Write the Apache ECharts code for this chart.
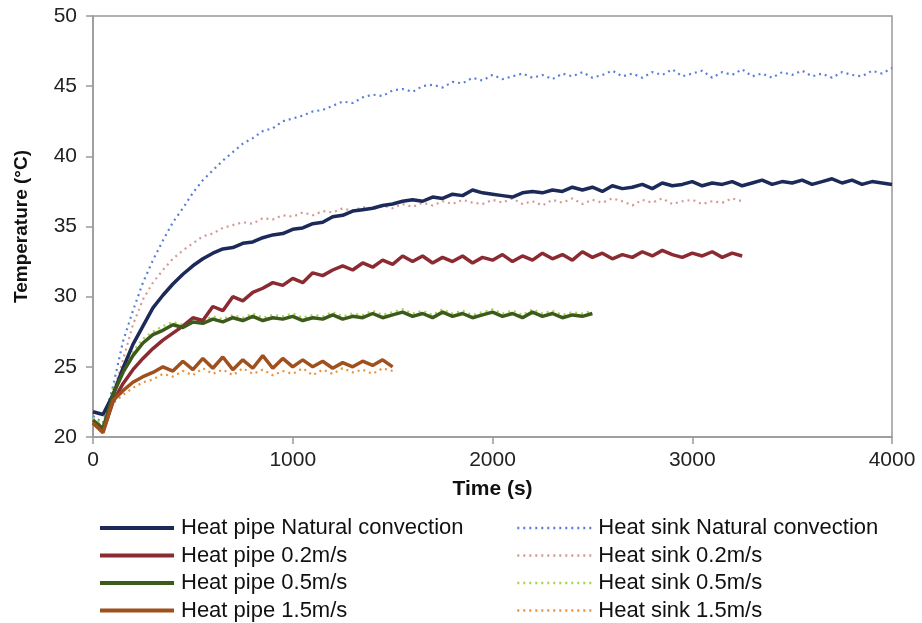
<!DOCTYPE html>
<html>
<head>
<meta charset="utf-8">
<script src="https://cdn.jsdelivr.net/npm/echarts@6/dist/echarts.min.js"></script>
<style>
  html, body { margin: 0; padding: 0; background: #fff; }
  #chart { width: 922px; height: 623px; }
</style>
</head>
<body>
<div id="chart"></div>
<script>
// time steps (s), one reading every 50 s
var timeSteps = [0,50,100,150,200,250,300,350,400,450,500,550,600,650,700,750,800,850,900,950,
  1000,1050,1100,1150,1200,1250,1300,1350,1400,1450,1500,1550,1600,1650,1700,1750,1800,1850,1900,1950,
  2000,2050,2100,2150,2200,2250,2300,2350,2400,2450,2500,2550,2600,2650,2700,2750,2800,2850,2900,2950,
  3000,3050,3100,3150,3200,3250,3300,3350,3400,3450,3500,3550,3600,3650,3700,3750,3800,3850,3900,3950,4000];

var pipeNatural = [21.8,21.6,23.0,24.9,26.6,27.9,29.2,30.1,30.9,31.6,32.2,32.7,33.1,33.4,33.5,33.8,33.9,34.2,34.4,34.5,
  34.8,34.9,35.2,35.3,35.7,35.8,36.1,36.2,36.3,36.5,36.6,36.8,36.9,36.8,37.1,37.0,37.3,37.2,37.6,37.4,
  37.3,37.2,37.1,37.4,37.5,37.4,37.6,37.5,37.8,37.6,37.8,37.5,37.9,37.7,37.8,38.0,37.7,38.1,37.9,38.0,
  38.2,37.9,38.1,38.0,38.2,37.9,38.1,38.3,38.0,38.2,38.1,38.3,38.0,38.2,38.4,38.1,38.3,38.0,38.2,38.1,38.0];
var sinkNatural = [21.5,21.0,23.6,26.8,29.0,31.0,32.6,34.0,35.3,36.3,37.4,38.3,39.0,39.7,40.3,40.9,41.3,41.8,42.0,42.5,
  42.7,42.9,43.2,43.3,43.6,43.9,43.8,44.2,44.4,44.3,44.7,44.8,44.6,45.0,45.1,44.9,45.3,45.2,45.6,45.4,
  45.8,45.5,45.7,45.9,45.6,45.8,45.5,45.9,45.7,46.0,45.6,45.8,46.1,45.7,45.9,45.6,46.0,45.8,46.2,45.7,
  45.9,46.1,45.6,46.0,45.8,46.2,45.7,45.9,45.6,46.0,45.8,46.1,45.7,45.9,45.6,46.0,45.8,45.7,46.1,45.9,46.3];
var pipe02 = [21.0,20.4,22.5,23.8,24.8,25.6,26.3,26.9,27.4,27.9,28.5,28.3,29.3,29.0,30.0,29.7,30.3,30.6,31.0,30.8,
  31.3,31.0,31.7,31.5,31.9,32.2,31.9,32.4,32.1,32.6,32.3,32.9,32.5,32.9,32.4,32.8,32.5,32.9,32.4,32.8,
  32.6,33.0,32.5,32.9,32.6,33.1,32.7,33.0,32.6,33.2,32.8,33.1,32.7,33.0,32.8,33.2,32.9,33.3,33.0,32.8,
  33.1,32.9,33.2,32.8,33.1,32.9];
var sink02 = [21.2,20.8,23.0,25.5,28.0,29.8,31.0,31.9,32.7,33.3,33.8,34.3,34.5,34.9,35.1,35.3,35.2,35.6,35.5,35.8,
  35.7,36.0,35.8,36.1,36.0,36.3,36.1,36.4,36.2,36.5,36.3,36.6,36.4,36.7,36.5,36.8,36.6,36.9,36.7,36.6,
  36.9,36.7,37.0,36.6,36.8,36.5,36.9,36.7,37.0,36.6,36.9,36.7,37.0,36.8,36.5,36.9,36.7,37.0,36.6,36.8,
  36.9,36.6,36.8,36.7,37.0,36.8];
var pipe05 = [21.2,20.6,23.0,24.6,25.8,26.7,27.3,27.6,28.0,27.8,28.2,28.1,28.4,28.2,28.5,28.3,28.6,28.3,28.5,28.4,
  28.6,28.3,28.5,28.4,28.7,28.4,28.6,28.5,28.8,28.5,28.7,28.9,28.6,28.8,28.5,28.9,28.6,28.8,28.5,28.7,
  28.9,28.6,28.8,28.5,28.9,28.6,28.8,28.5,28.7,28.6,28.8];
var sink05 = [21.4,20.9,23.4,25.0,26.1,27.0,27.5,27.9,28.2,28.0,28.4,28.3,28.6,28.4,28.7,28.5,28.8,28.5,28.7,28.6,
  28.8,28.5,28.7,28.6,28.9,28.6,28.8,28.7,29.0,28.7,28.9,29.1,28.8,29.0,28.7,29.1,28.8,29.0,28.7,28.9,
  29.1,28.8,29.0,28.7,29.1,28.8,29.0,28.7,28.9,28.8,29.0];
var pipe15 = [21.0,20.3,22.6,23.3,23.9,24.3,24.6,25.0,24.7,25.4,24.8,25.6,24.9,25.7,24.8,25.5,24.9,25.8,24.9,25.6,
  25.0,25.5,25.0,25.4,24.9,25.3,25.0,25.4,25.1,25.5,25.0];
var sink15 = [21.2,20.6,22.4,23.0,23.5,23.9,24.1,24.5,24.3,24.7,24.4,24.9,24.5,24.8,24.4,24.9,24.5,24.8,24.4,24.7,
  24.5,24.9,24.4,24.8,24.5,24.9,24.6,24.8,24.5,24.9,24.7];

var xTicks = [0, 1000, 2000, 3000, 4000];
var yTicks = [20, 25, 30, 35, 40, 45, 50];

var pipeNames = ['Heat pipe Natural convection', 'Heat pipe 0.2m/s', 'Heat pipe 0.5m/s', 'Heat pipe 1.5m/s'];
var sinkNames = ['Heat sink Natural convection', 'Heat sink 0.2m/s', 'Heat sink 0.5m/s', 'Heat sink 1.5m/s'];

function pairs(vals) {
  var res = [];
  for (var i = 0; i < vals.length; i++) {
    res.push([timeSteps[i], vals[i]]);
  }
  return res;
}

function solid(name, vals, color) {
  return {
    name: name, type: 'line', data: pairs(vals), symbol: 'none', smooth: false,
    lineStyle: { color: color, width: 3.5 }, itemStyle: { color: color }, z: 3
  };
}
function dotted(name, vals, color) {
  return {
    name: name, type: 'line', data: pairs(vals), symbol: 'none', smooth: false,
    lineStyle: { color: color, width: 2.2, type: [2, 4] }, itemStyle: { color: color }, z: 2
  };
}

var myChart = echarts.init(document.getElementById('chart'));

var legendText = { fontFamily: 'Liberation Sans', fontSize: 22, lineHeight: 22, color: '#111', padding: [0, 0, 0, 2] };
var legendBase = {
  orient: 'vertical', top: 517, height: 110, padding: 0,
  itemWidth: 74, itemHeight: 14, itemGap: 5.5,
  itemStyle: { opacity: 0 }, textStyle: legendText
};

var option = {
  animation: false,
  backgroundColor: '#fff',
  textStyle: { fontFamily: 'Liberation Sans' },
  grid: {
    left: 93, right: 30, top: 16, bottom: 186,
    show: true, borderColor: '#999', borderWidth: 1.5, backgroundColor: 'transparent'
  },
  legend: [
    Object.assign({}, legendBase, { data: pipeNames, left: 98, lineStyle: { width: 4 } }),
    Object.assign({}, legendBase, { data: sinkNames, left: 516, lineStyle: { width: 2.6 } })
  ],
  xAxis: {
    type: 'value', min: 0, max: 4000, interval: 1000,
    name: 'Time (s)', nameLocation: 'middle', nameGap: 42,
    nameTextStyle: { fontSize: 21, fontWeight: 'bold', color: '#111' },
    axisLine: { lineStyle: { color: '#999', width: 1.5 } },
    axisTick: { show: true, length: 7, lineStyle: { color: '#999', width: 1.5 } },
    axisLabel: {
      fontSize: 21, color: '#222', margin: 13,
      customValues: xTicks,
      formatter: function (v) { return String(v); }
    },
    splitLine: { show: false }
  },
  yAxis: {
    type: 'value', min: 20, max: 50, interval: 5,
    name: 'Temperature (°C)', nameLocation: 'middle', nameGap: 62, nameRotate: 90,
    nameTextStyle: { fontSize: 19, fontWeight: 'bold', color: '#111' },
    axisLine: { show: true, lineStyle: { color: '#999', width: 1.5 } },
    axisTick: { show: true, length: 7, lineStyle: { color: '#999', width: 1.5 } },
    axisLabel: {
      fontSize: 21, color: '#222', margin: 16, customValues: yTicks,
      formatter: function (v) { return String(v); }
    },
    splitLine: { show: false }
  },
  series: [
    dotted(sinkNames[0], sinkNatural, '#5b7fd8'),
    dotted(sinkNames[1], sink02, '#d39a95'),
    dotted(sinkNames[2], sink05, '#a8d24c'),
    dotted(sinkNames[3], sink15, '#e8923c'),
    solid(pipeNames[0], pipeNatural, '#1c2a5a'),
    solid(pipeNames[1], pipe02, '#8c2a32'),
    solid(pipeNames[2], pipe05, '#3c5a1c'),
    solid(pipeNames[3], pipe15, '#a0501c')
  ]
};

myChart.setOption(option);
</script>
</body>
</html>
